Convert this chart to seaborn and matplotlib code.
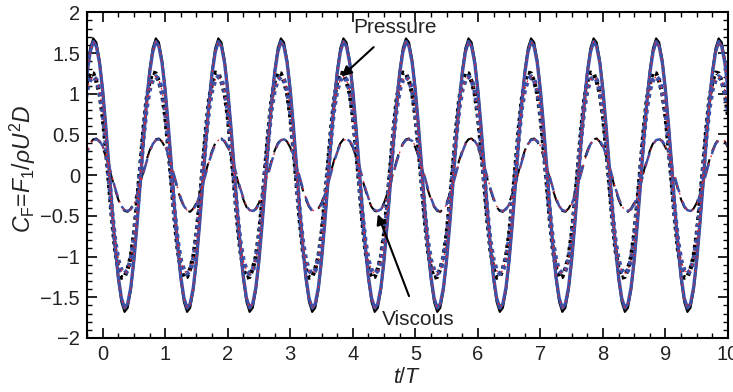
import numpy as np
import pandas as pd
import matplotlib
matplotlib.use("Agg")
import matplotlib.pyplot as plt
from matplotlib.ticker import MultipleLocator, FuncFormatter
import seaborn as sns

# ---- data (one period; signal repeats every t/T = 1) ----
phase = [0.00, 0.05, 0.10, 0.15, 0.20, 0.25, 0.30, 0.35, 0.40, 0.45,
         0.50, 0.55, 0.60, 0.65, 0.70, 0.75, 0.80, 0.85, 0.90, 0.95]
cycles = list(range(-1, 10))
t_end = 10.0

total_black = [1.07, 0.62, 0.11, -0.42, -0.90, -1.29, -1.56, -1.68, -1.63, -1.42,
               -1.07, -0.62, -0.11, 0.42, 0.90, 1.29, 1.56, 1.68, 1.63, 1.42]
total_blue = [1.04, 0.60, 0.11, -0.41, -0.87, -1.25, -1.51, -1.63, -1.58, -1.38,
              -1.04, -0.60, -0.11, 0.41, 0.87, 1.25, 1.51, 1.64, 1.58, 1.38]
press_black = [0.72, 0.33, -0.10, -0.55, -0.92, -1.15, -1.26, -1.25, -1.15, -1.00,
               -0.72, -0.33, 0.10, 0.55, 0.92, 1.15, 1.26, 1.25, 1.15, 1.00]
press_blue = [0.80, 0.42, -0.02, -0.46, -0.82, -1.05, -1.17, -1.21, -1.17, -1.04,
              -0.80, -0.42, 0.02, 0.46, 0.82, 1.05, 1.17, 1.21, 1.17, 1.04]
visc_black = [0.34, 0.23, 0.10, -0.04, -0.18, -0.30, -0.39, -0.44, -0.45, -0.41,
              -0.34, -0.23, -0.10, 0.04, 0.18, 0.30, 0.39, 0.44, 0.45, 0.41]
visc_blue = [0.36, 0.25, 0.12, -0.02, -0.16, -0.28, -0.38, -0.43, -0.44, -0.42,
             -0.36, -0.25, -0.12, 0.02, 0.16, 0.28, 0.38, 0.43, 0.44, 0.42]

x_ticks = [0, 1, 2, 3, 4, 5, 6, 7, 8, 9, 10]
y_ticks = [-2, -1.5, -1, -0.5, 0, 0.5, 1, 1.5, 2]


def series(values):
    t = np.concatenate([c + np.array(phase) for c in cycles] + [[t_end]])
    v = np.concatenate([np.array(values) for _ in cycles] + [[values[0]]])
    return pd.DataFrame({"t": t, "v": v})


# ---- style ----
sns.set_style("ticks")
plt.rcParams["font.family"] = ["Liberation Sans", "DejaVu Sans"]
plt.rcParams["mathtext.fontset"] = "custom"
plt.rcParams["mathtext.rm"] = "Liberation Sans"
plt.rcParams["mathtext.it"] = "Liberation Sans:italic"
plt.rcParams["mathtext.sf"] = "Liberation Sans"

fig, ax = plt.subplots(figsize=(7.33, 3.92), dpi=100)
fig.subplots_adjust(left=0.1187, right=0.9932, bottom=0.1378, top=0.9686)

BLUE = "#3d50a5"
RED = "#e3242b"
TXT = "#222222"
FS = 14.5

kw = dict(x="t", y="v", ax=ax, estimator=None, sort=False, legend=False)

# black curves
sns.lineplot(data=series(total_black), color="black", lw=1.5, **kw)
sns.lineplot(data=series(press_black), color="black", lw=3.0,
             linestyle=(0, (0.8, 0.9)), **kw)
sns.lineplot(data=series(visc_black), color="black", lw=1.5,
             linestyle=(0, (6, 4)), **kw)
# blue curves
sns.lineplot(data=series(total_blue), color=BLUE, lw=2.4, **kw)
sns.lineplot(data=series(press_blue), color=BLUE, lw=3.4,
             linestyle=(0, (0.8, 0.9)), **kw)
sns.lineplot(data=series(visc_blue), color=BLUE, lw=1.8,
             linestyle=(0, (6, 4)), **kw)
# red overlays
sns.lineplot(data=series(total_blue), color=RED, lw=0.9,
             linestyle=(0, (1.5, 4)), **kw)
sns.lineplot(data=series(press_blue), color=RED, lw=0.9,
             linestyle=(0, (1.5, 4)), **kw)
sns.lineplot(data=series(visc_blue), color=RED, lw=0.9,
             linestyle=(0, (1.5, 5)), **kw)

ax.set_xlim(-0.25, 10)
ax.set_ylim(-2, 2)
ax.set_xticks(x_ticks)
ax.set_yticks(y_ticks)
ax.xaxis.set_minor_locator(MultipleLocator(0.25))
ax.yaxis.set_minor_locator(MultipleLocator(0.1))
fmt = FuncFormatter(lambda v, p: f"{v:g}".replace("-", "\u2212"))
ax.yaxis.set_major_formatter(fmt)
ax.xaxis.set_major_formatter(fmt)
ax.tick_params(which="both", direction="in", top=True, right=True,
               labelsize=FS, colors="black", labelcolor=TXT)
ax.tick_params(which="major", length=7, width=1.2)
ax.tick_params(axis="y", which="major", pad=5)
ax.tick_params(axis="x", which="major", pad=5)
ax.tick_params(which="minor", length=3.5, width=1.0)
for s in ax.spines.values():
    s.set_linewidth(1.5)
    s.set_color("black")

ax.set_xlabel(r"$t/T$", fontsize=15.5, labelpad=2, color=TXT)
ax.set_ylabel(r"$C_{\mathrm{F}}$=$F_1/\rho U^2 D$", fontsize=16.5,
              labelpad=3, color=TXT)
ax.yaxis.set_label_coords(-0.077, 0.52)

ax.annotate("Pressure", xy=(3.82, 1.21), xytext=(4.67, 1.81),
            ha="center", va="center", fontsize=15, color=TXT,
            arrowprops=dict(arrowstyle="-|>", color="black", lw=1.5,
                            mutation_scale=15, shrinkA=7, shrinkB=0))
ax.annotate("Viscous", xy=(4.40, -0.48), xytext=(5.04, -1.77),
            ha="center", va="center", fontsize=15, color=TXT,
            arrowprops=dict(arrowstyle="-|>", color="black", lw=1.5,
                            mutation_scale=15, shrinkA=8, shrinkB=0))

fig.savefig("out.png", dpi=100)
